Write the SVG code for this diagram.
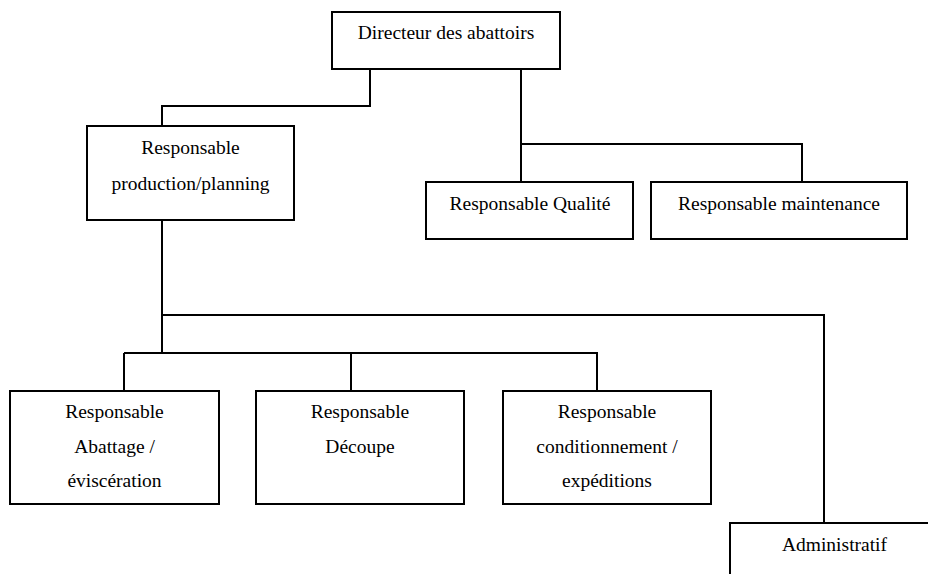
<svg xmlns="http://www.w3.org/2000/svg" width="928" height="574" viewBox="0 0 928 574" font-family="'Liberation Serif', 'DejaVu Serif', serif" font-size="19.5">
<style>
rect{fill:#fff;stroke:#000;stroke-width:2}
.c path{fill:none;stroke:#000;stroke-width:2}
text{fill:#000;text-anchor:middle}
</style>
<rect x="0" y="0" width="928" height="574" style="stroke:none"/>
<g class="c" id="connectors">
<path d="M370,70 V106 H162 V126"/>
<path d="M521,70 V182"/>
<path d="M521,144 H802 V182"/>
<path d="M162,220 V353"/>
<path d="M162,315 H824 V523"/>
<path d="M124,353 H597 V391"/>
<path d="M124,353 V391"/>
<path d="M351,353 V391"/>
</g>
<g id="directeur"><rect x="332" y="12" width="228" height="57"/><text x="446" y="39">Directeur des abattoirs</text></g>
<g id="production"><rect x="87" y="126" width="207" height="94"/><text x="190.5" y="154">Responsable</text><text x="190.5" y="190">production/planning</text></g>
<g id="qualite"><rect x="426" y="182" width="207" height="57"/><text x="530" y="210">Responsable Qualité</text></g>
<g id="maintenance"><rect x="651" y="182" width="256" height="57"/><text x="779" y="210">Responsable maintenance</text></g>
<g id="abattage"><rect x="10" y="391" width="209" height="113"/><text x="114.5" y="418">Responsable</text><text x="114.5" y="453">Abattage /</text><text x="114.5" y="487">éviscération</text></g>
<g id="decoupe"><rect x="256" y="391" width="208" height="113"/><text x="360" y="418">Responsable</text><text x="360" y="453">Découpe</text></g>
<g id="conditionnement"><rect x="503" y="391" width="208" height="113"/><text x="607" y="418">Responsable</text><text x="607" y="453">conditionnement /</text><text x="607" y="487">expéditions</text></g>
<g id="administratif"><rect x="730" y="523" width="210" height="60"/><text x="834.5" y="551">Administratif</text></g>
</svg>
